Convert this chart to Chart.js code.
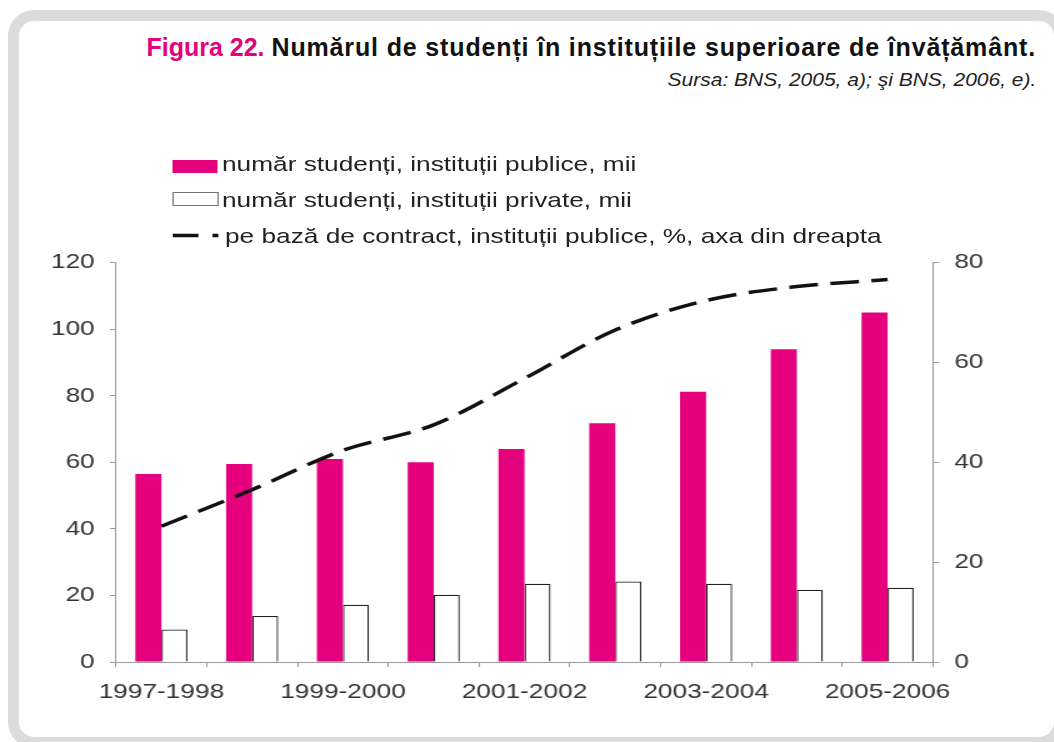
<!DOCTYPE html>
<html>
<head>
<meta charset="utf-8">
<script src="https://cdn.jsdelivr.net/npm/chart.js@4"></script>
<style>
  html, body { margin:0; padding:0; background:#fff; width:1054px; height:742px; overflow:hidden; }
  #frame { position:absolute; left:8px; top:10px; width:1035px; height:716px; border:11px solid #dcdcdc; border-radius:26px; background:#fff; }
  #title { position:absolute; right:18px; top:35px; font-family:"Liberation Sans", Arial, sans-serif; font-weight:bold; font-size:25px; line-height:25px; color:#111; white-space:nowrap; }
  #title .fig { color:#e5007e; letter-spacing:0; }
  #title .rest { letter-spacing:0.85px; }
  #subtitle { position:absolute; right:18px; top:72px; font-family:"Liberation Sans", Arial, sans-serif; font-style:italic; font-size:17.5px; line-height:17.5px; color:#222; white-space:nowrap; transform:scaleX(1.2); transform-origin:100% 0; }
  #stretch { position:absolute; left:0; top:0; width:843.2px; height:742px; transform:scaleX(1.25); transform-origin:0 0; }
  #chart { position:absolute; left:0; top:238px; }
  .lg { position:absolute; font-family:"Liberation Sans", Arial, sans-serif; font-size:21px; line-height:21px; color:#222; white-space:nowrap; }
  .sw { position:absolute; }
</style>
</head>
<body>
<div id="frame"></div>
<div id="title"><span class="fig">Figura 22.</span> <span class="rest">Numărul de studenți în instituțiile superioare de învățământ.</span></div>
<div id="subtitle">Sursa: BNS, 2005, a); şi BNS, 2006, e).</div>
<div id="stretch">
  <div class="sw" style="left:137.6px; top:160px; width:36.8px; height:13px; background:#e5007e;"></div>
  <div class="lg" id="lg1" style="left:177.6px; top:153px;"></div>
  <div class="sw" style="left:137.6px; top:192px; width:35.2px; height:11.5px; background:#fff; border:1px solid #777;"></div>
  <div class="lg" id="lg2" style="left:177.6px; top:189px;"></div>
  <svg class="sw" style="left:137.6px; top:230px;" width="37" height="10"><line x1="0" y1="5.5" x2="36.8" y2="5.5" stroke="#111" stroke-width="3.5" stroke-dasharray="20.8 11.2"/></svg>
  <div class="lg" id="lg3" style="left:180px; top:225px;"></div>
  <canvas id="chart" width="843" height="480"></canvas>
</div>
<script>
const categories = ["1997-1998","1998-1999","1999-2000","2000-2001","2001-2002","2002-2003","2003-2004","2004-2005","2005-2006"];
const publicStudents = [56.5, 59.5, 61, 60, 64, 71.7, 81.2, 94, 105];
const privateStudents = [9.8, 13.8, 17.2, 20.2, 23.5, 24.2, 23.5, 21.7, 22.3];
const contractPercent = [27.2, 34.5, 42.4, 47.5, 56.8, 66.5, 72.4, 75.2, 76.6];
const leftTicks = {min:0, max:120, step:20};
const rightTicks = {min:0, max:80, step:20};
const seriesNames = [
  "număr studenți, instituții publice, mii",
  "număr studenți, instituții private, mii",
  "pe bază de contract, instituții publice, %, axa din dreapta"
];

document.getElementById('lg1').textContent = seriesNames[0];
document.getElementById('lg2').textContent = seriesNames[1];
document.getElementById('lg3').textContent = seriesNames[2];

const tickFont = {family:"'Liberation Sans', Arial, sans-serif", size:21};
const axisGray = '#9a9a9a';

new Chart(document.getElementById('chart'), {
  data: {
    labels: categories,
    datasets: [
      { type:'line', label:seriesNames[2], data:contractPercent, yAxisID:'y1', order:0,
        borderColor:'#111', borderWidth:3.5, borderDash:[23,10], borderCapStyle:'butt',
        pointRadius:0, cubicInterpolationMode:'monotone', fill:false },
      { type:'bar', label:seriesNames[0], data:publicStudents, yAxisID:'y', order:1,
        backgroundColor:'#e5007e', borderWidth:0,
        categoryPercentage:0.574, barPercentage:1 },
      { type:'bar', label:seriesNames[1], data:privateStudents, yAxisID:'y', order:1,
        backgroundColor:'#ffffff', borderColor:'#222', borderWidth:1.3,
        categoryPercentage:0.574, barPercentage:1 }
    ]
  },
  options: {
    responsive:false,
    devicePixelRatio:1,
    animation:false,
    layout:{ padding:{ top:24, left:0, right:0, bottom:0 } },
    plugins:{ legend:{display:false}, tooltip:{enabled:false}, title:{display:false} },
    scales:{
      x:{
        offset:true,
        grid:{ display:true, drawOnChartArea:false, offset:true, tickLength:5, color:axisGray },
        border:{ display:true, color:axisGray },
        ticks:{ autoSkip:false, maxRotation:0, minRotation:0, padding:13, color:'#333', font:tickFont,
                callback:(v, i) => i % 2 === 0 ? categories[i] : '' },
        afterFit:(s) => { s.height = 56; }
      },
      y:{
        position:'left', min:leftTicks.min, max:leftTicks.max,
        grid:{ drawOnChartArea:false, tickLength:5, color:axisGray },
        border:{ display:true, color:axisGray },
        ticks:{ stepSize:leftTicks.step, padding:12, color:'#333', font:tickFont },
        afterFit:(s) => { s.width = 92.8; }
      },
      y1:{
        position:'right', min:rightTicks.min, max:rightTicks.max,
        grid:{ drawOnChartArea:false, tickLength:5, color:axisGray },
        border:{ display:true, color:axisGray },
        ticks:{ stepSize:rightTicks.step, padding:12, color:'#333', font:tickFont },
        afterFit:(s) => { s.width = 96.6; }
      }
    }
  }
});
</script>
</body>
</html>
